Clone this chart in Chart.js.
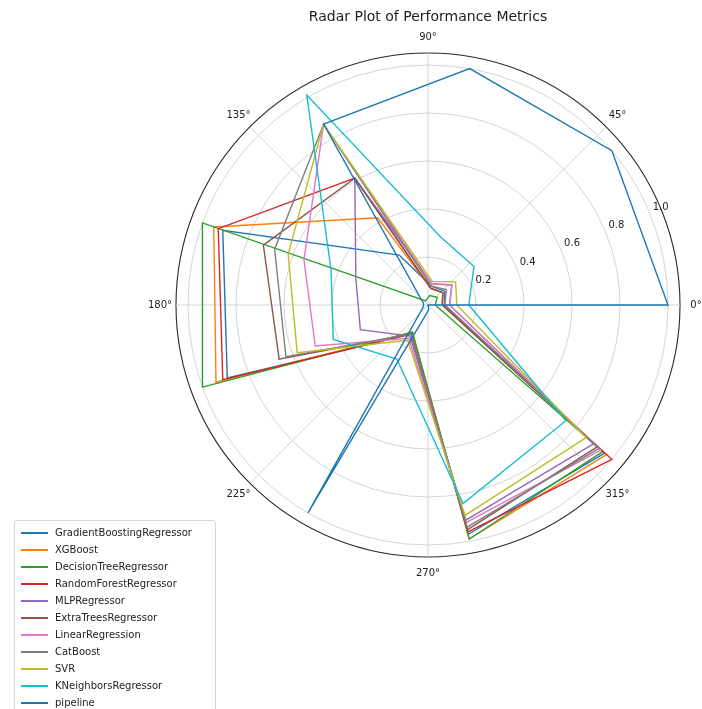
<!DOCTYPE html>
<html>
<head>
<meta charset="utf-8">
<title>Radar Plot of Performance Metrics</title>
<script src="https://cdn.jsdelivr.net/npm/chart.js@4.4.0/dist/chart.umd.min.js"></script>
<style>
  body { margin: 0; background: #fff; font-family: 'DejaVu Sans', sans-serif; }
  #wrap { position: relative; width: 702px; height: 709px; overflow: hidden; }
  #legend {
    position: absolute; left: 14px; top: 520px; width: 200px;
    border: 1px solid #d6d6d6; border-radius: 3px; background: rgba(255,255,255,0.8);
    padding: 3px 0 8px 0; font-size: 10px; color: #222;
  }
  .item { display: flex; align-items: center; height: 17px; }
  .swatch { width: 27px; height: 2px; margin: 0 7px 0 6px; }
</style>
</head>
<body>
<div id="wrap">
  <canvas id="radar" width="702" height="709"></canvas>
  <div id="legend"></div>
</div>
<script>
// metric angles in degrees (matplotlib polar, counter-clockwise from the right)
const angles = [0, 40, 80, 120, 160, 200, 240, 280, 320]
const models = ['GradientBoostingRegressor', 'XGBoost', 'DecisionTreeRegressor', 'RandomForestRegressor',
  'MLPRegressor', 'ExtraTreesRegressor', 'LinearRegression', 'CatBoost', 'SVR', 'KNeighborsRegressor', 'pipeline']
const colors = ['#1f77b4', '#ff7f0e', '#2ca02c', '#d62728', '#9467bd', '#8c564b', '#e377c2', '#7f7f7f', '#bcbd22', '#17becf', '#1f77b4']

const gradientBoosting = [0.07, 0.09, 0.08, 0.24, 0.91, 0.89, 0.14, 0.97, 0.96]
const xgBoost = [0.06, 0.08, 0.07, 0.42, 0.95, 0.94, 0.13, 0.99, 0.97]
const decisionTree = [0.03, 0.05, 0.04, 0.02, 1.0, 1.0, 0.13, 0.99, 0.95]
const randomForest = [0.06, 0.08, 0.07, 0.61, 0.93, 0.91, 0.14, 0.96, 1.0]
const mlp = [0.09, 0.13, 0.09, 0.61, 0.32, 0.30, 0.15, 0.91, 0.90]
const extraTrees = [0.06, 0.08, 0.07, 0.61, 0.73, 0.66, 0.14, 0.95, 0.92]
const linearRegression = [0.09, 0.13, 0.09, 0.87, 0.55, 0.50, 0.16, 0.92, 0.94]
const catBoost = [0.07, 0.10, 0.08, 0.87, 0.68, 0.63, 0.14, 0.94, 0.93]
const svr = [0.12, 0.15, 0.10, 0.87, 0.62, 0.58, 0.17, 0.89, 0.86]
const kNeighbors = [0.17, 0.25, 0.29, 1.01, 0.43, 0.42, 0.26, 0.84, 0.75]
const pipeline = [1.0, 1.0, 1.0, 0.87, 0.02, 0.02, 1.0, 0.02, 0.0]

const series = [gradientBoosting, xgBoost, decisionTree, randomForest, mlp, extraTrees,
  linearRegression, catBoost, svr, kNeighbors, pipeline]

const radialTicks = [0.2, 0.4, 0.6, 0.8, 1.0]
const angleTicks = [0, 45, 90, 135, 180, 225, 270, 315]
const rMax = 1.05

// radar slots every 5 degrees, clockwise on screen starting at the right
const STEP = 5
const slots = 360 / STEP
const slotOf = deg => ((360 - deg) / STEP) % slots
const labels = Array.from({ length: slots }, (_, i) => String(i))

const datasets = series.map((values, i) => {
  const data = new Array(slots).fill(null)
  angles.forEach((a, j) => { data[slotOf(a)] = values[j] })
  return {
    label: models[i],
    data,
    borderColor: colors[i],
    backgroundColor: 'rgba(0,0,0,0)',
    borderWidth: 1.4,
    fill: false,
    pointRadius: 0,
    order: series.length - i
  }
})

const textPlugin = {
  id: 'polarText',
  afterDraw (chart) {
    const r = chart.scales.r
    const ctx = chart.ctx
    ctx.save()
    ctx.fillStyle = '#222'
    ctx.textAlign = 'center'
    ctx.textBaseline = 'middle'
    ctx.font = '14px "DejaVu Sans"'
    ctx.fillText('Radar Plot of Performance Metrics', r.xCenter, 17)
    ctx.font = '10px "DejaVu Sans"'
    angleTicks.forEach(a => {
      const p = r.getPointPosition(slotOf(a), r.drawingArea + 16)
      ctx.fillText(a + '°', p.x, p.y)
    })
    const t = 22.5 * Math.PI / 180
    radialTicks.forEach(v => {
      const d = r.getDistanceFromCenterForValue(v)
      ctx.fillText(v.toFixed(1), r.xCenter + Math.cos(t) * d + 11, r.yCenter - Math.sin(t) * d - 6)
    })
    ctx.restore()
  }
}

new Chart(document.getElementById('radar'), {
  type: 'radar',
  data: { labels, datasets },
  options: {
    responsive: false,
    animation: false,
    spanGaps: true,
    layout: { padding: { left: 176, right: 22, top: 53, bottom: 152 } },
    plugins: { legend: { display: false }, tooltip: { enabled: false } },
    elements: { line: { tension: 0 } },
    scales: {
      r: {
        min: 0,
        max: rMax,
        startAngle: 90,
        afterBuildTicks: scale => {
          scale.ticks = [0].concat(radialTicks, [rMax]).map(v => ({ value: v }))
        },
        ticks: { display: false },
        pointLabels: { display: false },
        grid: {
          circular: true,
          color: c => (c.tick && c.tick.value > 1.01) ? '#2a2a2a' : '#cfcfcf',
          lineWidth: c => (c.tick && c.tick.value > 1.01) ? 1.1 : 0.9
        },
        angleLines: {
          color: c => (c.index % 9 === 0) ? '#cfcfcf' : 'rgba(0,0,0,0)',
          lineWidth: 0.9
        }
      }
    }
  },
  plugins: [textPlugin]
})

// legend
const legendEl = document.getElementById('legend')
legendEl.innerHTML = models.map((m, i) =>
  `<div class="item"><span class="swatch" style="background:${colors[i]}"></span>${m}</div>`).join('')
</script>
</body>
</html>
